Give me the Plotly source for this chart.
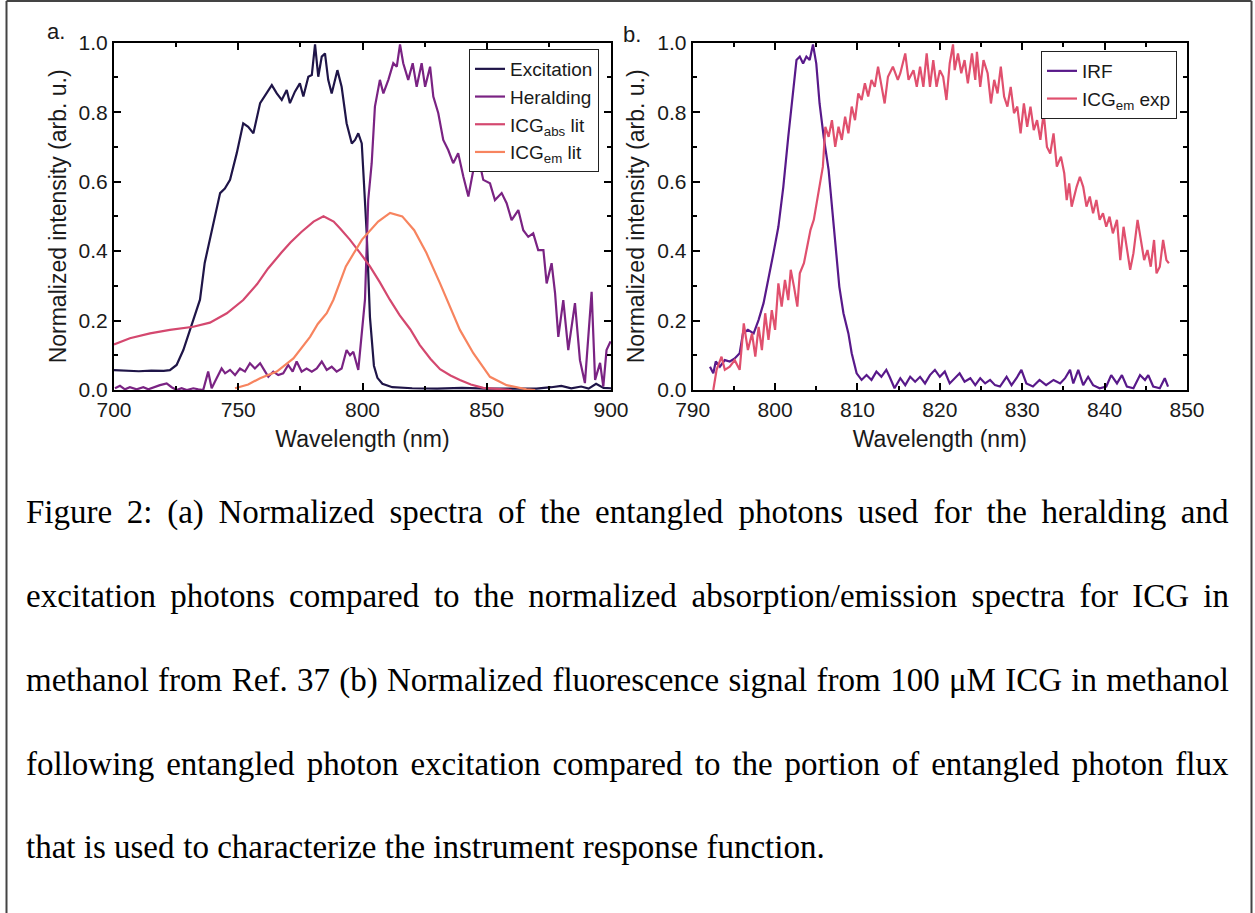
import json
import plotly.graph_objects as go

# ---------------- data ----------------
EXCITATION = [(700, 0.057), (705, 0.055), (710, 0.054), (715, 0.056), (720, 0.055), (722.5, 0.057),
              (725.2, 0.072), (727.9, 0.115), (730.6, 0.173), (732.6, 0.22), (734.6, 0.26), (736.5, 0.366),
              (739.7, 0.47), (742.7, 0.567), (744.6, 0.58), (746.7, 0.605), (749.4, 0.682), (752, 0.768),
              (754, 0.758), (756.1, 0.739), (758.8, 0.826), (761.5, 0.854), (763.5, 0.878), (765.5, 0.854),
              (767.5, 0.835), (769.5, 0.864), (770.8, 0.826), (772.8, 0.859), (774.8, 0.883), (776.2, 0.845),
              (778.2, 0.902), (779.6, 0.907), (780.9, 0.995), (782.2, 0.902), (783.6, 0.96), (784.9, 0.969),
              (786.2, 0.893), (787.6, 0.854), (789.9, 0.921), (791.6, 0.873), (793.6, 0.768), (795.7, 0.71),
              (797, 0.72), (798.3, 0.739), (799.7, 0.71), (800.3, 0.633), (801, 0.557), (801.7, 0.45),
              (803, 0.21), (804.6, 0.07), (806, 0.035), (808, 0.018), (812, 0.008), (820, 0.005),
              (830, 0.004), (840, 0.006), (850, 0.004), (860, 0.005), (870, 0.004), (876, 0.008),
              (880, 0.012), (884, 0.005), (888, 0.01), (891, 0.004), (894, 0.018), (897, 0.006), (900, 0.005)]

HERALDING = [(700.4, 0.005), (702.4, 0.012), (704.4, 0.002), (706.4, 0.008), (709.1, 0.002), (711.8, 0.008),
             (713.8, 0.002), (715.8, 0.008), (718.5, 0.014), (721.2, 0.019), (723.2, 0.008), (725.2, 0.0),
             (727.2, 0.005), (729.3, 0.0), (731.9, 0.005), (733.9, 0.002), (735.9, 0.0), (737.9, 0.053),
             (739.3, 0.005), (741.3, 0.034), (743.3, 0.062), (744.7, 0.048), (746.7, 0.058), (748.7, 0.043),
             (750.7, 0.062), (752.7, 0.053), (754.7, 0.077), (756.7, 0.062), (758.8, 0.077), (760.4, 0.058),
             (762.1, 0.038), (764.1, 0.053), (766.1, 0.043), (768.1, 0.048), (770.1, 0.072), (771.9, 0.053),
             (773.5, 0.082), (775.5, 0.053), (777.5, 0.062), (779.6, 0.053), (781.6, 0.062), (783.6, 0.082),
             (785.6, 0.058), (787.6, 0.067), (789.6, 0.053), (791.6, 0.062), (793.6, 0.115), (795, 0.1),
             (796.3, 0.11), (798.3, 0.058), (799.7, 0.163), (801, 0.26), (802.3, 0.547), (803.7, 0.653),
             (805, 0.816), (807, 0.893), (808.4, 0.854), (810.4, 0.893), (812.4, 0.941), (813.8, 0.931),
             (815.1, 0.995), (816.4, 0.941), (818.4, 0.893), (820.2, 0.941), (821.8, 0.873), (823.8, 0.941),
             (825.2, 0.873), (827.2, 0.931), (828.5, 0.845), (830.5, 0.797), (832.5, 0.72), (834.5, 0.691),
             (836.5, 0.653), (838.5, 0.682), (840.6, 0.614), (842.6, 0.557), (844.6, 0.633), (846, 0.633),
             (847.3, 0.648), (848.6, 0.605), (851.3, 0.595), (853.3, 0.547), (856, 0.567), (858, 0.538),
             (860, 0.489), (862.7, 0.518), (864.7, 0.46), (866.7, 0.441), (868.7, 0.451), (870.7, 0.403),
             (872.8, 0.403), (874.1, 0.307), (876.1, 0.365), (877.5, 0.278), (878.8, 0.153), (880.8, 0.259),
             (882.8, 0.115), (885.5, 0.25), (887.5, 0.086), (889.5, 0.02), (892.2, 0.283), (893.6, 0.029),
             (895.6, 0.078), (896.9, 0.01), (898.2, 0.115), (899.8, 0.14)]

ICG_ABS_LIT = [(700, 0.131), (706.4, 0.149), (714.5, 0.163), (722.5, 0.173), (731.9, 0.182), (738.6, 0.194),
               (745.4, 0.221), (752, 0.259), (757.6, 0.305), (762, 0.35), (767.3, 0.395), (771, 0.425),
               (775.4, 0.455), (780.3, 0.485), (784.3, 0.5), (788.4, 0.485), (791, 0.465), (794.9, 0.433),
               (799, 0.395), (803, 0.356), (807, 0.31), (811, 0.26), (815, 0.215), (819.2, 0.175),
               (823, 0.13), (827.3, 0.09), (831.2, 0.06), (835.4, 0.042), (839.2, 0.029), (843.6, 0.016),
               (848.6, 0.006), (855, 0.002), (860, 0.0)]

ICG_EM_LIT = [(748.7, 0.005), (754, 0.016), (758.8, 0.034), (765.5, 0.053), (772.2, 0.091), (778.9, 0.153),
              (782, 0.19), (785.6, 0.221), (788.3, 0.26), (793.3, 0.356), (799.8, 0.433), (806.3, 0.485),
              (811.1, 0.51), (816, 0.5), (820.8, 0.46), (825.7, 0.395), (831.2, 0.307), (835.4, 0.237),
              (839.2, 0.173), (844.6, 0.106), (851.3, 0.038), (858, 0.014), (866, 0.002), (869.5, 0.0)]

IRF = [(792.1, 0.067), (792.5, 0.048), (792.8, 0.082), (793.3, 0.067), (793.9, 0.086), (794.5, 0.082),
       (795.1, 0.091), (795.7, 0.106), (796.1, 0.163), (796.7, 0.173), (797.4, 0.163), (798, 0.202),
       (798.6, 0.25), (799.2, 0.317), (799.8, 0.394), (800.4, 0.47), (801, 0.585), (801.6, 0.729),
       (802.2, 0.854), (802.6, 0.95), (803, 0.96), (803.4, 0.94), (803.8, 0.96), (804.2, 0.95),
       (804.6, 0.995), (805, 0.94), (805.4, 0.825), (805.9, 0.729), (806.5, 0.633), (806.9, 0.528),
       (807.3, 0.413), (807.8, 0.297), (808.3, 0.221), (808.9, 0.163), (809.3, 0.106), (809.9, 0.048),
       (810.5, 0.029), (811.1, 0.043), (811.7, 0.029), (812.3, 0.053), (812.9, 0.038), (813.5, 0.058),
       (813.9, 0.038), (814.5, 0.005), (815.2, 0.034), (815.8, 0.014), (816.4, 0.038), (817, 0.024),
       (817.6, 0.038), (818.2, 0.019), (818.8, 0.043), (819.4, 0.058), (820, 0.038), (820.6, 0.053),
       (821.2, 0.019), (821.8, 0.034), (822.4, 0.048), (823, 0.024), (823.7, 0.034), (824.3, 0.014),
       (824.9, 0.034), (825.5, 0.019), (826.1, 0.029), (826.7, 0.014), (827.3, 0.01), (828.1, 0.038),
       (828.7, 0.014), (829.3, 0.034), (829.9, 0.058), (830.5, 0.019), (831.3, 0.01), (832.1, 0.029),
       (832.9, 0.014), (833.8, 0.029), (834.6, 0.019), (835.2, 0.034), (835.8, 0.058), (836.2, 0.019),
       (836.8, 0.058), (837.4, 0.014), (838, 0.038), (838.6, 0.014), (839.4, 0.005), (840.2, 0.01),
       (840.8, 0.043), (841.5, 0.019), (842.1, 0.043), (842.7, 0.01), (843.5, 0.005), (844.3, 0.043),
       (844.9, 0.029), (845.3, 0.043), (845.9, 0.01), (846.7, 0.005), (847.3, 0.034), (847.7, 0.01)]

ICG_EM_EXP = [(792.5, 0.0), (792.9, 0.058), (793.5, 0.096), (793.9, 0.058), (794.5, 0.067), (795.1, 0.086),
              (795.7, 0.058), (796.2, 0.192), (796.7, 0.115), (797.2, 0.163), (797.6, 0.096), (798, 0.182),
              (798.4, 0.115), (798.8, 0.221), (799.2, 0.144), (799.6, 0.23), (800, 0.173), (800.4, 0.307),
              (800.8, 0.24), (801.2, 0.317), (801.6, 0.259), (801.9, 0.346), (802.3, 0.297), (802.7, 0.24),
              (803, 0.336), (803.5, 0.365), (803.9, 0.413), (804.3, 0.461), (804.7, 0.49), (805.1, 0.547),
              (805.4, 0.585), (805.8, 0.643), (806.1, 0.758), (806.5, 0.729), (806.9, 0.777), (807.3, 0.7),
              (807.7, 0.758), (808.1, 0.72), (808.5, 0.787), (808.9, 0.739), (809.3, 0.816), (809.7, 0.777),
              (810.1, 0.854), (810.5, 0.835), (810.9, 0.883), (811.3, 0.845), (811.7, 0.893), (812.1, 0.873),
              (812.5, 0.931), (812.9, 0.873), (813.3, 0.825), (813.7, 0.902), (814.3, 0.931), (814.9, 0.893),
              (815.2, 0.912), (815.8, 0.969), (816.2, 0.893), (816.8, 0.921), (817.2, 0.873), (817.6, 0.931),
              (818, 0.873), (818.4, 0.969), (818.8, 0.873), (819.2, 0.95), (819.6, 0.873), (820, 0.921),
              (820.4, 0.902), (820.8, 0.835), (821.2, 0.941), (821.6, 0.995), (821.8, 0.921), (822.2, 0.969),
              (822.6, 0.912), (823, 0.95), (823.4, 0.883), (823.9, 0.969), (824.3, 0.893), (824.5, 0.974),
              (824.9, 0.873), (825.3, 0.95), (825.8, 0.912), (826.2, 0.825), (826.6, 0.893), (827, 0.854),
              (827.4, 0.931), (827.8, 0.845), (828.2, 0.816), (828.6, 0.873), (829, 0.797), (829.4, 0.816),
              (829.8, 0.739), (830.2, 0.825), (830.6, 0.758), (831, 0.816), (831.4, 0.748), (831.8, 0.777),
              (832.2, 0.72), (832.6, 0.797), (833, 0.7), (833.4, 0.681), (833.8, 0.739), (834.2, 0.643),
              (834.7, 0.672), (835.1, 0.624), (835.4, 0.547), (835.7, 0.595), (836, 0.528), (836.6, 0.585),
              (837, 0.614), (837.4, 0.585), (837.8, 0.528), (838.2, 0.557), (838.6, 0.509), (839, 0.547),
              (839.4, 0.49), (839.8, 0.509), (840.2, 0.47), (840.6, 0.499), (841, 0.451), (841.5, 0.49),
              (841.9, 0.374), (842.3, 0.47), (842.7, 0.403), (843.1, 0.346), (843.5, 0.394), (844, 0.49),
              (844.4, 0.432), (844.8, 0.374), (845.2, 0.403), (845.6, 0.355), (846, 0.432), (846.3, 0.336),
              (846.7, 0.355), (847.1, 0.432), (847.5, 0.374), (847.8, 0.365)]

LEFT_XTICKS = [700, 750, 800, 850, 900]
RIGHT_XTICKS = [790, 800, 810, 820, 830, 840, 850]
YTICKS = [0.0, 0.2, 0.4, 0.6, 0.8, 1.0]

CAPTION_LINES = [
    "Figure 2: (a) Normalized spectra of the entangled photons used for the heralding and",
    "excitation photons compared to the normalized absorption/emission spectra for ICG in",
    "methanol from Ref. 37 (b) Normalized fluorescence signal from 100 \u03bcM ICG in methanol",
    "following entangled photon excitation compared to the portion of entangled photon flux",
    "that is used to characterize the instrument response function.",
]

# ---------------- layout helpers ----------------
W, H = 1255, 913
def px(x):
    return x / W
def py(y):
    return 1 - y / H

C_EXC = "#1f1548"
C_HER = "#7a2383"
C_ABS = "#d4486f"
C_EM = "#f7845f"
C_IRF = "#58198a"
C_EXP = "#e0506e"

SANS = "Liberation Sans, Arial, sans-serif"
AX_FONT = dict(family=SANS, size=21, color="#1a1a1a")
TITLE_FONT = dict(family=SANS, size=23, color="#1a1a1a")
LEG_FONT = dict(family=SANS, size=19, color="#1a1a1a")

fig = go.Figure()

def add(series, name, color, xa, ya, legend):
    fig.add_trace(go.Scatter(
        x=[p[0] for p in series], y=[p[1] for p in series], mode="lines", name=name,
        line=dict(color=color, width=2.2), xaxis=xa, yaxis=ya, legend=legend))

add(EXCITATION, "Excitation", C_EXC, "x", "y", "legend")
add(HERALDING, "Heralding", C_HER, "x", "y", "legend")
add(ICG_ABS_LIT, "ICG<sub>abs</sub> lit", C_ABS, "x", "y", "legend")
add(ICG_EM_LIT, "ICG<sub>em</sub> lit", C_EM, "x", "y", "legend")
add(IRF, "IRF", C_IRF, "x2", "y2", "legend2")
add(ICG_EM_EXP, "ICG<sub>em</sub> exp", C_EXP, "x2", "y2", "legend2")

def axis(domain, rng, tickvals, minor_dtick, title, standoff, anchor, fmt=None):
    d = dict(domain=domain, range=rng, tickvals=tickvals, anchor=anchor, automargin=False,
             showline=True, linewidth=2, linecolor="black", mirror="ticks",
             ticks="inside", ticklen=7, tickwidth=2, tickcolor="black",
             showgrid=False, zeroline=False, tickfont=AX_FONT,
             minor=dict(ticks="inside", ticklen=4, tickwidth=2, tickcolor="black",
                        dtick=minor_dtick, tick0=rng[0], showgrid=False),
             title=dict(text=title, font=TITLE_FONT, standoff=standoff))
    if fmt:
        d["tickformat"] = fmt
    return d

XD_L = [px(114), px(611)]
XD_R = [px(692.7), px(1187)]
YD = [py(390), py(42.7)]
fig.update_layout(
    width=W, height=H, margin=dict(l=0, r=0, t=0, b=0, pad=0, autoexpand=False),
    paper_bgcolor="white", plot_bgcolor="white",
    xaxis=axis(XD_L, [700, 900], LEFT_XTICKS, 25, "Wavelength (nm)", 11, "y"),
    yaxis=axis(YD, [0, 1], YTICKS, 0.1, "Normalized intensity (arb. u.)", 6, "x", ".1f"),
    xaxis2=axis(XD_R, [790, 850], RIGHT_XTICKS, 5, "Wavelength (nm)", 11, "y2"),
    yaxis2=axis(YD, [0, 1], YTICKS, 0.1, "Normalized intensity (arb. u.)", 6, "x2", ".1f"),
    legend=dict(x=px(599), y=py(49), xanchor="right", yanchor="top", bgcolor="white",
                bordercolor="#222", borderwidth=1, font=LEG_FONT, tracegroupgap=0, itemwidth=30),
    legend2=dict(x=px(1177), y=py(51), xanchor="right", yanchor="top", bgcolor="white",
                 bordercolor="#222", borderwidth=1, font=LEG_FONT, tracegroupgap=0, itemwidth=30),
)

# panel labels
for txt, x, y in [("a.", 56, 32), ("b.", 632, 35)]:
    fig.add_annotation(text=txt, x=px(x), y=py(y), xref="paper", yref="paper", showarrow=False,
                       xanchor="center", yanchor="middle", font=dict(family=SANS, size=22, color="#1a1a1a"))

# outer frame of the figure (its bottom edge lies outside the picture)
for x0, y0, x1, y1 in [(6.5, 913, 6.5, 1), (1251.5, 913, 1251.5, 1), (6.5, 1, 1251.5, 1)]:
    fig.add_shape(type="line", xref="paper", yref="paper", x0=px(x0), x1=px(x1), y0=py(y0), y1=py(y1),
                  line=dict(color="#444", width=2))

# ---------------- justified caption, one text per word ----------------
TIMES = {' ': 250, 'a': 444, 'b': 500, 'c': 444, 'd': 500, 'e': 444, 'f': 333, 'g': 500, 'h': 500, 'i': 278,
         'j': 278, 'k': 500, 'l': 278, 'm': 778, 'n': 500, 'o': 500, 'p': 500, 'q': 500, 'r': 333, 's': 389,
         't': 278, 'u': 500, 'v': 500, 'w': 722, 'x': 500, 'y': 500, 'z': 444, 'F': 556, 'I': 333, 'C': 667,
         'G': 722, 'M': 889, 'N': 722, 'R': 667, '(': 333, ')': 333, ':': 278, '.': 250, '/': 278,
         '\u03bc': 500}
CAP_FS = 33
CAP_L, CAP_R = 26, 1229
CAP_Y = [512, 596, 680, 763.5, 847]
cap_font = dict(family="Liberation Serif, Times New Roman, serif", size=CAP_FS, color="black")

def wlen(word):
    return sum(TIMES.get(ch, 500) for ch in word) * CAP_FS / 1000.0

word_map = []  # [annotation index, line index, word index, justified?]
for i, line in enumerate(CAPTION_LINES):
    words = line.split(" ")
    last = i == len(CAPTION_LINES) - 1
    widths = [wlen(w) for w in words]
    gap = TIMES[' '] * CAP_FS / 1000.0 if last else (CAP_R - CAP_L - sum(widths)) / (len(words) - 1)
    x = CAP_L
    for j, w in enumerate(words):
        word_map.append([len(fig.layout.annotations), i, j, 0 if last else 1])
        fig.add_annotation(text=w, x=px(x), y=py(CAP_Y[i]), xref="paper", yref="paper", showarrow=False,
                           xanchor="left", yanchor="middle", font=cap_font, borderpad=0)
        x += widths[j] + gap

# after drawing: measure the real word widths and justify each line exactly
post = """
document.documentElement.style.margin='0';
document.body.style.margin='0';
document.body.style.overflow='hidden';
(function(){
  var gd = document.getElementById('{plot_id}');
  var map = %s, L = %f, R = %f, space = %f;
  var svg = gd.querySelector('svg.main-svg');
  if (!svg) return;
  var origin = svg.getBoundingClientRect().left;
  var groups = gd.querySelectorAll('g.annotation');
  var byIndex = {};
  for (var k = 0; k < groups.length; k++) {
    byIndex[groups[k].getAttribute('data-index')] = groups[k].querySelector('text.annotation-text');
  }
  var lines = {};
  map.forEach(function(m){
    var t = byIndex[String(m[0])];
    if (!t) return;
    (lines[m[1]] = lines[m[1]] || {just: m[3], items: []}).items.push({j: m[2], el: t});
  });
  Object.keys(lines).forEach(function(key){
    var ln = lines[key];
    ln.items.sort(function(a, b){ return a.j - b.j; });
    var total = 0;
    ln.items.forEach(function(it){ it.w = it.el.getBoundingClientRect().width; total += it.w; });
    var n = ln.items.length;
    var gap = (ln.just && n > 1) ? (R - L - total) / (n - 1) : space;
    var x = L;
    ln.items.forEach(function(it){
      var cur = it.el.getBoundingClientRect().left - origin;
      var ox = parseFloat(it.el.getAttribute('x') || '0');
      it.el.setAttribute('x', ox + (x - cur));
      x += it.w + gap;
    });
  });
})();
""" % (json.dumps(word_map), CAP_L, CAP_R, TIMES[' '] * CAP_FS / 1000.0)

fig.write_html("out.html", post_script=post, config={"displayModeBar": False, "responsive": False})
